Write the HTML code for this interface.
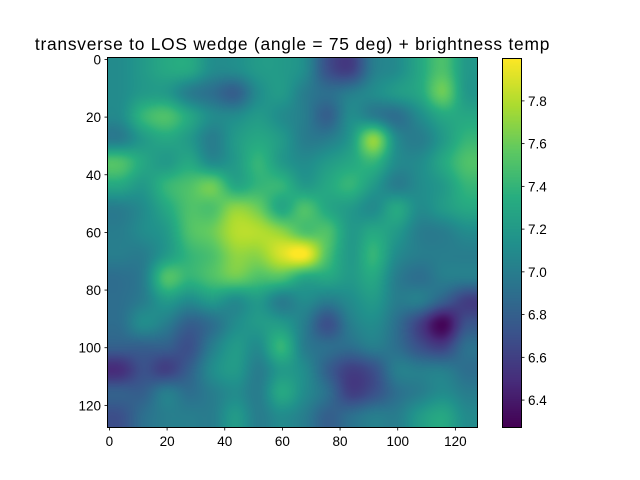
<!DOCTYPE html>
<html><head><meta charset="utf-8">
<style>
body{margin:0;background:#fff;}
#wrap{position:relative;width:640px;height:480px;font-family:"Liberation Sans",sans-serif;color:#000;}
.t{position:absolute;font-size:12px;white-space:nowrap;}
</style></head>
<body>
<div id="wrap">
<div class="t" style="left:0;width:585px;text-align:center;top:34px;font-size:17.4px;letter-spacing:0.75px;">transverse to LOS wedge (angle = 75 deg) + brightness temp</div>
<canvas id="hm" width="369" height="369" style="position:absolute;left:108px;top:58px;"></canvas>
<div style="position:absolute;left:107.5px;top:57.5px;width:369px;height:369px;border:1px solid #000;box-sizing:content-box;margin:-0.5px;"></div>
<canvas id="cb" width="18" height="368" style="position:absolute;left:503px;top:59px;"></canvas>
<div style="position:absolute;left:502px;top:58px;width:18px;height:368px;border:1px solid #000;"></div>
<svg id="ax" width="640" height="480" style="position:absolute;left:0;top:0;"></svg>
</div>
<script>
const xTicks=[0,20,40,60,80,100,120];
const yTicks=[0,20,40,60,80,100,120];
const cbTicks=[6.4,6.6,6.8,7.0,7.2,7.4,7.6,7.8];
const vmin=6.274, vmax=7.996;
const grid=[
[7.1,7.2,7.3,7.3,7.1,7.1,7.2,7.2,7.1,6.7,6.6,7.0,7.1,7.3,7.5,7.2],
[7.1,7.2,7.2,7.0,6.9,6.8,7.1,7.2,7.0,6.9,7.0,7.1,7.2,7.3,7.6,7.2],
[7.1,7.4,7.5,7.3,7.1,7.1,7.2,7.1,7.0,6.8,7.1,7.0,6.9,7.1,7.3,7.3],
[7.0,7.2,7.3,7.2,7.0,7.2,7.3,7.2,7.0,7.0,7.2,7.7,7.1,7.0,7.2,7.4],
[7.5,7.3,7.2,7.3,7.1,7.2,7.4,7.2,7.1,7.2,7.3,7.4,7.1,7.1,7.3,7.5],
[7.3,7.2,7.4,7.5,7.6,7.3,7.4,7.4,7.2,7.3,7.4,7.2,7.0,7.1,7.2,7.4],
[7.0,7.1,7.3,7.5,7.5,7.7,7.6,7.3,7.5,7.3,7.2,7.1,7.3,7.1,7.2,7.3],
[7.0,7.1,7.2,7.5,7.6,7.8,7.8,7.7,7.5,7.5,7.2,7.3,7.2,7.0,7.0,7.1],
[7.0,7.0,7.2,7.4,7.5,7.7,7.7,7.9,8.0,7.5,7.2,7.4,7.1,7.0,7.0,7.0],
[6.9,7.0,7.5,7.4,7.5,7.6,7.5,7.5,7.3,7.3,7.2,7.3,7.0,6.9,7.0,7.0],
[6.9,7.0,7.2,7.1,7.2,7.1,7.2,7.0,7.1,7.0,7.1,7.2,7.0,7.0,6.8,6.6],
[6.9,7.1,7.0,6.8,6.9,7.1,7.2,7.2,7.0,6.7,7.0,7.1,6.9,6.6,6.3,6.7],
[6.8,6.8,6.8,6.7,7.0,7.2,7.1,7.4,7.0,6.9,6.9,7.0,6.9,6.7,6.6,6.9],
[6.5,6.7,6.6,6.8,7.1,7.2,7.0,7.2,7.1,6.8,6.6,6.7,7.0,7.0,7.0,6.9],
[6.8,6.8,7.0,6.9,7.0,7.1,7.0,7.3,7.1,6.9,6.6,6.7,6.9,7.0,7.1,7.0],
[6.7,6.9,7.0,7.0,7.0,7.2,7.0,7.1,7.0,6.8,6.9,7.0,7.0,7.2,7.3,7.1]
];
const vir=[[68,1,84],[71,45,123],[59,82,139],[44,114,142],[33,145,140],[40,174,128],[94,201,98],[173,220,48],[253,231,37]];
function cmap(v){let t=(v-vmin)/(vmax-vmin);t=Math.max(0,Math.min(1,t))*8;const i=Math.min(7,Math.floor(t)),f=t-i;const a=vir[i],b=vir[i+1];return [a[0]+(b[0]-a[0])*f,a[1]+(b[1]-a[1])*f,a[2]+(b[2]-a[2])*f];}
const N=128, W=369, px=W/N;
function sx(v){return 108+(v+0.5)*px;}
function sy(v){return 58+(v+0.5)*px;}
function cr(p0,p1,p2,p3,t){return p1+0.5*t*(p2-p0+t*(2*p0-5*p1+4*p2-p3+t*(3*(p1-p2)+p3-p0)));}
function g(r,c){const n=grid.length;r=Math.max(0,Math.min(n-1,r));c=Math.max(0,Math.min(n-1,c));return grid[r][c];}
function sample(x,y){const n=grid.length,cs=N/n;const gx=x/cs-0.5,gy=y/cs-0.5;
 const x0=Math.floor(gx),y0=Math.floor(gy);const fx=gx-x0,fy=gy-y0;const rows=[];
 for(let k=-1;k<=2;k++){rows.push(cr(g(y0+k,x0-1),g(y0+k,x0),g(y0+k,x0+1),g(y0+k,x0+2),fx));}
 return cr(rows[0],rows[1],rows[2],rows[3],fy);}
const hc=document.getElementById('hm').getContext('2d');const img=hc.createImageData(W,W);
for(let j=0;j<W;j++)for(let i=0;i<W;i++){const c=cmap(sample(i/px,j/px));const k=(j*W+i)*4;img.data[k]=c[0];img.data[k+1]=c[1];img.data[k+2]=c[2];img.data[k+3]=255;}
hc.putImageData(img,0,0);
const cc=document.getElementById('cb').getContext('2d');
for(let j=0;j<368;j++){const c=cmap(vmax-(j+0.5)/368*(vmax-vmin));cc.fillStyle=`rgb(${c[0]|0},${c[1]|0},${c[2]|0})`;cc.fillRect(0,j,18,1);}
const svg=document.getElementById('ax');const NS='http://www.w3.org/2000/svg';
function el(tag,attrs,txt){const e=document.createElementNS(NS,tag);for(const k in attrs)e.setAttribute(k,attrs[k]);if(txt!==undefined)e.textContent=txt;svg.appendChild(e);return e;}
const FS=13.5;
xTicks.forEach(v=>{const x=sx(v);
 const l=el('line',{x1:x,x2:x,y1:427,y2:430.5,stroke:'#000','stroke-width':0.8});
 
 
 const t=el('text',{x:x,y:446,'text-anchor':'middle','font-size':FS,'font-family':'Liberation Sans, sans-serif'},String(v));
 
 });
yTicks.forEach(v=>{const y=sy(v);
 const l=el('line',{x1:104.5,x2:108,y1:y,y2:y,stroke:'#000','stroke-width':0.8});
 
 
 const t=el('text',{x:101,y:y+5,'text-anchor':'end','font-size':FS,'font-family':'Liberation Sans, sans-serif'},String(v));
 
 });
cbTicks.forEach(v=>{const y=59+(vmax-v)/(vmax-vmin)*368;
 const l=el('line',{x1:521,x2:524.5,y1:y,y2:y,stroke:'#000','stroke-width':0.8});
 
 
 const t=el('text',{x:528,y:y+5,'font-size':FS,'font-family':'Liberation Sans, sans-serif'},v.toFixed(1));
 
 });
</script>
</body></html>
